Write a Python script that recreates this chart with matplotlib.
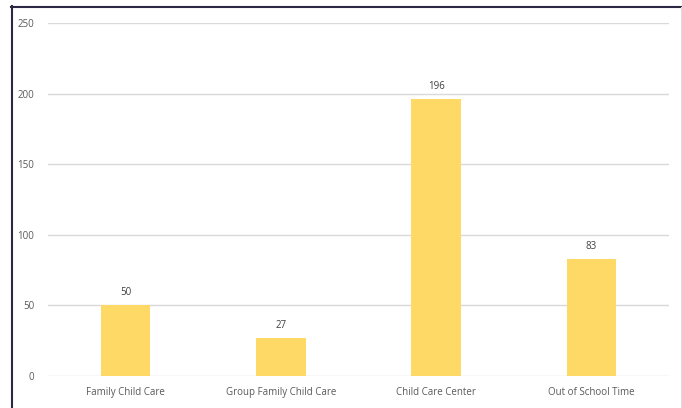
import matplotlib.pyplot as plt
from matplotlib.lines import Line2D

categories = ['Family Child Care', 'Group Family Child Care', 'Child Care Center', 'Out of School Time']
counts = [50, 27, 196, 83]
y_ticks = [0, 50, 100, 150, 200, 250]

plt.rcParams['font.family'] = ['Open Sans', 'DejaVu Sans']

fig = plt.figure(figsize=(6.82, 4.08), dpi=100)
ax = fig.add_axes([48 / 682, 1 - 376 / 408, 621 / 682, 353 / 408])

x = range(len(categories))
bars = ax.bar(x, counts, width=0.32, color='#FFD966', zorder=3)
for b, v in zip(bars, counts):
    ax.annotate(str(v), (b.get_x() + b.get_width() / 2, v), xytext=(0, 5),
                textcoords='offset points', ha='center', va='bottom',
                fontsize=7, color='#404040')

ax.set_xlim(-0.5, len(categories) - 0.5)
ax.set_ylim(0, 250)
ax.set_yticks(y_ticks)
ax.set_xticks(list(x))
ax.set_xticklabels(categories)
ax.tick_params(axis='both', length=0, labelsize=7, labelcolor='#595959')
ax.tick_params(axis='y', pad=10)
ax.tick_params(axis='x', pad=8)
ax.grid(axis='y', color='#D9D9D9', linewidth=1, zorder=0)
for s in ax.spines.values():
    s.set_visible(False)

# outer frame of the original screenshot
fig.add_artist(Line2D([11 / 682, 1], [1 - 6.5 / 408] * 2, color='#2B2845', linewidth=1.5,
                      transform=fig.transFigure))
fig.add_artist(Line2D([11.5 / 682] * 2, [0, 1 - 6 / 408], color='#2B2845', linewidth=1.5,
                      transform=fig.transFigure))
fig.add_artist(Line2D([680.5 / 682] * 2, [0, 1 - 7 / 408], color='#DDDDDD', linewidth=0.8,
                      transform=fig.transFigure))

fig.savefig('out.png', dpi=100)
